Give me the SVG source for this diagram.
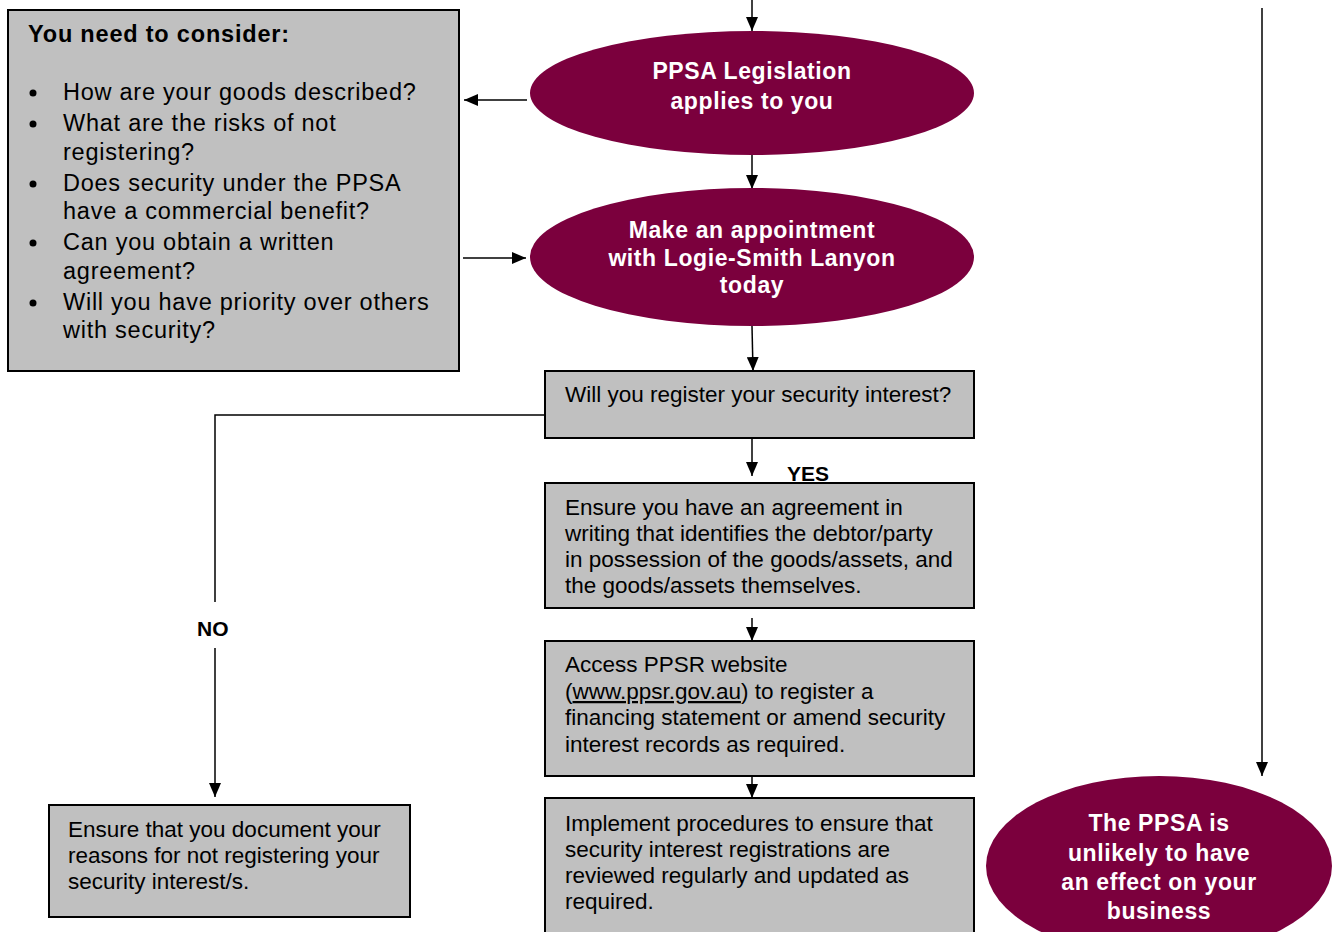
<svg xmlns="http://www.w3.org/2000/svg" width="1334" height="932" viewBox="0 0 1334 932">
<style>
.box{fill:#c0c0c0;stroke:#000;stroke-width:2}
.ell{fill:#7b003d}
.t{font-family:"Liberation Sans",Arial,sans-serif;font-size:23.5px;letter-spacing:0.75px;fill:#000}
.s{font-family:"Liberation Sans",Arial,sans-serif;font-size:22.5px;fill:#000}
.w{font-family:"Liberation Sans",Arial,sans-serif;font-size:23px;letter-spacing:0.6px;font-weight:bold;fill:#fff;text-anchor:middle}
.b{font-family:"Liberation Sans",Arial,sans-serif;font-weight:bold;fill:#000}
.ln{stroke:#000;stroke-width:1.5;fill:none}
</style>
<defs>
<marker id="ah" viewBox="0 0 14 12" refX="14" refY="6" markerWidth="14" markerHeight="12" markerUnits="userSpaceOnUse" orient="auto">
<path d="M0,0 L14,6 L0,12 z" fill="#000"/>
</marker>
</defs>
<rect width="1334" height="932" fill="#fff"/>
<g id="connectors">
<line class="ln" x1="752" y1="0" x2="752" y2="31" marker-end="url(#ah)"/>
<line class="ln" x1="752" y1="145" x2="752" y2="189" marker-end="url(#ah)"/>
<line class="ln" x1="527" y1="100" x2="464" y2="100" marker-end="url(#ah)"/>
<line class="ln" x1="463" y1="258" x2="526" y2="258" marker-end="url(#ah)"/>
<line class="ln" x1="752" y1="326" x2="753" y2="371" marker-end="url(#ah)"/>
<line class="ln" x1="752" y1="438" x2="752" y2="476" marker-end="url(#ah)"/>
<line class="ln" x1="752" y1="618" x2="752" y2="641" marker-end="url(#ah)"/>
<line class="ln" x1="752" y1="776" x2="752" y2="798" marker-end="url(#ah)"/>
<polyline class="ln" points="545,415 215,415 215,602"/>
<line class="ln" x1="215" y1="648" x2="215" y2="797" marker-end="url(#ah)"/>
<line class="ln" x1="1262" y1="8" x2="1262" y2="776" marker-end="url(#ah)"/>
<text class="b" x="787" y="481" font-size="21">YES</text>
<text class="b" x="197" y="636" font-size="21">NO</text>
</g>
<g id="consider">
<rect class="box" x="8" y="10" width="451" height="361"/>
<text class="b" x="28" y="42" font-size="23.5" letter-spacing="0.8">You need to consider:</text>
<g class="t">
<circle cx="33" cy="93" r="3.5"/><text x="63" y="100">How are your goods described?</text>
<circle cx="33" cy="124" r="3.5"/><text x="63" y="131">What are the risks of not</text>
<text x="63" y="160">registering?</text>
<circle cx="33" cy="184" r="3.5"/><text x="63" y="191">Does security under the PPSA</text>
<text x="63" y="219">have a commercial benefit?</text>
<circle cx="33" cy="243" r="3.5"/><text x="63" y="250">Can you obtain a written</text>
<text x="63" y="279">agreement?</text>
<circle cx="33" cy="303" r="3.5"/><text x="63" y="310">Will you have priority over others</text>
<text x="63" y="338">with security?</text>
</g>
</g>
<g id="ppsa-applies">
<ellipse class="ell" cx="752" cy="93" rx="222" ry="62"/>
<text class="w" x="752" y="79">PPSA Legislation</text>
<text class="w" x="752" y="109">applies to you</text>
</g>
<g id="appointment">
<ellipse class="ell" cx="752" cy="257" rx="222" ry="69"/>
<text class="w" x="752" y="238">Make an appointment</text>
<text class="w" x="752" y="266">with Logie-Smith Lanyon</text>
<text class="w" x="752" y="293">today</text>
</g>
<g id="register-q">
<rect class="box" x="545" y="371" width="429" height="67"/>
<text class="s" x="565" y="402">Will you register your security interest?</text>
</g>
<g id="agreement">
<rect class="box" x="545" y="483" width="429" height="125"/>
<text class="s" x="565" y="515">Ensure you have an agreement in</text>
<text class="s" x="565" y="541">writing that identifies the debtor/party</text>
<text class="s" x="565" y="567">in possession of the goods/assets, and</text>
<text class="s" x="565" y="593">the goods/assets themselves.</text>
</g>
<g id="ppsr">
<rect class="box" x="545" y="641" width="429" height="135"/>
<text class="s" x="565" y="672">Access PPSR website</text>
<text class="s" x="565" y="699">(<tspan text-decoration="underline">www.ppsr.gov.au</tspan>) to register a</text>
<text class="s" x="565" y="725">financing statement or amend security</text>
<text class="s" x="565" y="752">interest records as required.</text>
</g>
<g id="procedures">
<rect class="box" x="545" y="798" width="429" height="140"/>
<text class="s" x="565" y="831">Implement procedures to ensure that</text>
<text class="s" x="565" y="857">security interest registrations are</text>
<text class="s" x="565" y="883">reviewed regularly and updated as</text>
<text class="s" x="565" y="909">required.</text>
</g>
<g id="document">
<rect class="box" x="49" y="805" width="361" height="112"/>
<text class="s" x="68" y="837">Ensure that you document your</text>
<text class="s" x="68" y="863">reasons for not registering your</text>
<text class="s" x="68" y="889">security interest/s.</text>
</g>
<g id="unlikely">
<ellipse class="ell" cx="1159" cy="866" rx="173" ry="90"/>
<text class="w" x="1159" y="831">The PPSA is</text>
<text class="w" x="1159" y="861">unlikely to have</text>
<text class="w" x="1159" y="890">an effect on your</text>
<text class="w" x="1159" y="919">business</text>
</g>
</svg>
